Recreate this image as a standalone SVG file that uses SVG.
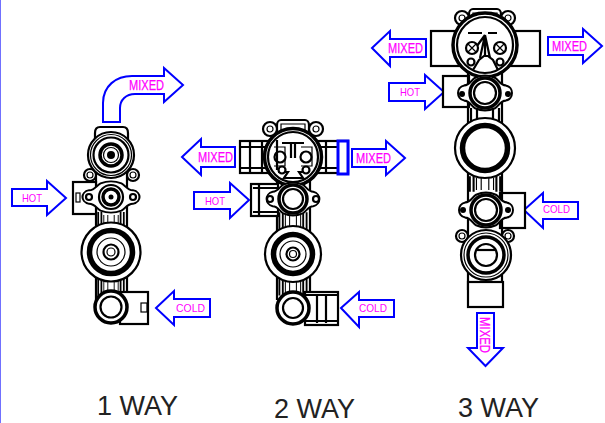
<svg xmlns="http://www.w3.org/2000/svg" width="605" height="423" viewBox="0 0 605 423">
<style>
.a{fill:#fff;stroke:#00f;stroke-width:2}
.l{font-family:"Liberation Sans",Arial,sans-serif;fill:#f0f}
.m{font-size:14px;stroke:#f0f;stroke-width:.25}
.s{font-size:10.500px}
.w{font-family:"Liberation Sans",Arial,sans-serif;font-size:27px;fill:#222}
.t{fill:#fff;stroke:#000;stroke-width:2.200}
.h{fill:#fff;stroke:#000;stroke-width:3.500}
.r{fill:#fff;stroke:#000;stroke-width:5.500}
.n{fill:none;stroke:#000;stroke-width:1.200}
.b{fill:none;stroke:#000;stroke-width:2.200}
.k{fill:#000}
</style>
<defs>
<g id="ribs">
<path class="b" d="M-16 -13V13M16 -13V13M-12 -13V13M12 -13V13"/>
<path class="n" d="M-9 -10V10M-4 -10V10M9 -10V10M4 -10V10"/>
</g>
<path id="flange" class="t" d="M-23 -8C-17 -8-15 -14-11 -16C-4 -19 4 -19 11 -16C15 -14 17 -8 23 -8C28 -7 30 -3 30 0C30 3 28 7 23 8C17 8 15 14 11 16C4 19-4 19-11 16C-15 14-17 8-23 8C-28 7-30 3-30 0C-30-3-28-7-23-8Z"/>
<g id="top">
<path class="t" d="M-16 22V-8C-16 -11-14 -13-12 -13H12C14 -13 16 -11 16 -8V22"/>
<path class="n" d="M-12 -9H12V6H-12Z"/>
<circle class="t" cx="-23" cy="-4" r="7"/><circle class="n" cx="-23" cy="-4" r="3"/>
<circle class="t" cx="23" cy="-4" r="7"/><circle class="n" cx="23" cy="-4" r="3"/>
</g>
</defs>
<rect x="0" y="0" width="1" height="423" fill="#7070ff"/>

<g id="connectors">
<path class="a" d="M103 122V103C103 86 116 76 132 76H164V68L183 85L164 102V94H135C126 94 120 100 120 108V122Z"/>
<path class="a" d="M12 189H47V181L66 198L47 215V206H12Z"/>
<path class="a" d="M156 308L174 291V299H210V317H174V325Z"/>
<path class="a" d="M182 157L201 139V147H235V167H201V175Z"/>
<path class="a" d="M352 149H386V141L405 158L386 175V167H352Z"/>
<path class="a" d="M194 192H230V183L249 200L230 218V209H194Z"/>
<path class="a" d="M341 308L359 292V300H394V317H359V327Z"/>
<path class="a" d="M372 48L390 31V39H426V57H390V66Z"/>
<path class="a" d="M548 37H583V29L602 46L583 63V55H548Z"/>
<path class="a" d="M389 83H425V75L444 92L425 109V101H389Z"/>
<path class="a" d="M524 210L543 193V202H578V219H543V228Z"/>
<path class="a" d="M477 313H494V348H503L485.500 366L468 348H477Z"/>
</g>

<g id="valve-1">
<path class="t" d="M95 142V133Q95 127 100 127H123Q128 127 128 133V142"/>
<path class="b" d="M96 140V300M127 140V300"/>
<rect class="t" x="73" y="182" width="23" height="32"/><rect class="n" x="76" y="193" width="4" height="9"/>
<circle class="t" cx="90" cy="175" r="6"/><circle class="n" cx="90" cy="175" r="3"/>
<circle class="t" cx="133" cy="175" r="6"/><circle class="n" cx="133" cy="175" r="3"/>
<circle class="t" cx="111" cy="155" r="23"/><circle class="n" cx="111" cy="155" r="20.500"/><circle class="t" cx="111" cy="155" r="17.500"/>
<circle class="h" cx="111" cy="155" r="11"/><circle class="n" cx="111" cy="155" r="7.500"/><circle class="k" cx="111" cy="155" r="4"/>
<use href="#ribs" transform="translate(111 225) scale(.8 1)"/>
<use href="#flange" transform="translate(111 197) scale(.95 .85)"/>
<circle class="t" cx="111" cy="197" r="12"/><circle class="h" cx="111" cy="197" r="8"/><circle class="k" cx="111" cy="197" r="2.500"/>
<circle class="t" cx="89" cy="197" r="3"/><circle class="t" cx="133" cy="197" r="3"/>
<use href="#ribs" transform="translate(111 288) scale(.8 .7)"/>
<circle class="t" cx="111" cy="252" r="29.500"/><circle class="r" cx="111" cy="252" r="21.500"/>
<circle class="n" cx="111" cy="252" r="14"/><circle class="t" cx="111" cy="252" r="7.500"/><circle class="n" cx="111" cy="252" r="4"/>
<rect class="t" x="120" y="292" width="28" height="32"/><rect class="n" x="141" y="303" width="6" height="9"/>
<circle class="h" cx="111" cy="307" r="16"/><circle class="t" cx="111" cy="307" r="10.500"/>
</g>

<g id="valve-2">
<path class="b" d="M277 180V300M310 180V292"/>
<rect class="t" x="240" y="141" width="40" height="32"/>
<path class="b" d="M250 142V172M262 142V172M240 147H272M240 168H272"/>
<rect class="t" x="306" y="141" width="42" height="32"/>
<path class="b" d="M326 142V172M306 147H340M306 168H340"/>
<rect x="338" y="141" width="10" height="33" fill="#fff" stroke="#00f" stroke-width="3"/>
<rect class="t" x="251" y="184" width="27" height="32"/><path class="b" d="M259 185V215M253 188H277M253 212H277"/>
<use href="#top" x="293" y="133"/>
<circle class="h" cx="293" cy="157" r="28.500"/><circle class="t" cx="293" cy="157" r="25"/>
<path class="b" d="M282 143H304M291 143V158M295 143V158"/>
<path class="n" d="M274 147H285V166H274M301 147H312V166H301"/>
<path class="b" d="M278 172L288 172L284 178H303L299 172H309"/>
<circle class="t" cx="280" cy="157" r="5.500"/><path class="b" d="M277 140L277 170"/><circle class="t" cx="306" cy="157" r="5.500"/>
<circle class="t" cx="282" cy="170" r="3.500"/><circle class="t" cx="306" cy="170" r="3.500"/>
<use href="#ribs" transform="translate(293 224) scale(.85 .9)"/>
<use href="#flange" transform="translate(293 199) scale(.88 .9)"/>
<circle class="h" cx="293" cy="199" r="14"/><circle class="t" cx="293" cy="199" r="10"/>
<circle class="t" cx="270" cy="199" r="3"/><circle class="t" cx="316" cy="199" r="3"/>
<use href="#ribs" transform="translate(293 285) scale(.85 .8)"/>
<circle class="t" cx="293" cy="254" r="28"/><circle class="r" cx="293" cy="254" r="19.500"/>
<circle class="n" cx="293" cy="254" r="13"/><circle class="t" cx="293" cy="254" r="6.500"/><circle class="n" cx="293" cy="254" r="3.500"/>
<rect class="t" x="305" y="292" width="33" height="33"/><path class="b" d="M317 294V323M326 294V323M306 295H337M306 321H337"/>
<circle class="h" cx="293" cy="308" r="16"/><circle class="t" cx="293" cy="308" r="10"/>
</g>

<g id="valve-3">
<rect class="t" x="431" y="31" width="109" height="35"/>
<rect class="t" x="443" y="76" width="26" height="31"/>
<rect class="t" x="500" y="193" width="25" height="35"/>
<path class="b" d="M468 60V290M502 60V290"/>
<use href="#top" x="485" y="22"/>
<circle class="h" cx="485" cy="45" r="32"/><circle class="t" cx="485" cy="45" r="28"/>
<path class="b" d="M468 33H482M488 33H497M485 35L474 50M485 35L480 58M485 35L490 58M485 35V55"/>
<path class="b" d="M473 70L479 60L484 56H488L493 60L498 70"/>
<circle class="t" cx="472" cy="48" r="6"/><path class="n" d="M468 44L476 52M476 44L468 52"/>
<circle class="t" cx="500" cy="48" r="6"/><path class="n" d="M496 44L504 52M504 44L496 52"/>
<circle class="t" cx="471" cy="62" r="3.500"/><circle class="t" cx="500" cy="62" r="3.500"/>
<use href="#flange" transform="translate(485 93) scale(.9 .95)"/>
<circle class="h" cx="485" cy="93" r="15"/><circle class="t" cx="485" cy="93" r="11"/>
<circle class="k" cx="462" cy="94" r="3"/><circle class="k" cx="508" cy="94" r="3"/>
<path class="b" d="M471 108V122M477 108V122M493 108V122M499 108V122"/>
<circle class="t" cx="485" cy="148" r="30"/><circle class="r" cx="485" cy="148" r="22.500"/>
<use href="#ribs" transform="translate(485 184) scale(.95 .6)"/>
<circle class="t" cx="462" cy="236" r="6"/><circle class="n" cx="462" cy="236" r="3"/>
<circle class="t" cx="508" cy="236" r="6"/><circle class="n" cx="508" cy="236" r="3"/>
<use href="#flange" transform="translate(486 210) scale(.9 .95)"/>
<circle class="h" cx="486" cy="210" r="15"/><circle class="t" cx="486" cy="210" r="11"/>
<circle class="k" cx="463" cy="210" r="3"/><circle class="k" cx="508" cy="210" r="3"/>
<rect class="t" x="468" y="282" width="35" height="25"/>
<circle class="t" cx="486" cy="255" r="25"/><circle class="n" cx="486" cy="255" r="22"/><circle class="h" cx="486" cy="255" r="18"/>
<circle class="t" cx="486" cy="255" r="11"/><path class="b" d="M476 250H496"/>
</g>

<g id="labels">
<text class="l m" x="129" y="90" textLength="35" lengthAdjust="spacingAndGlyphs">MIXED</text>
<text class="l s" x="22" y="202" textLength="20" lengthAdjust="spacingAndGlyphs">HOT</text>
<text class="l s" x="176" y="312" textLength="29" lengthAdjust="spacingAndGlyphs">COLD</text>
<text class="l m" x="198" y="162" textLength="35" lengthAdjust="spacingAndGlyphs">MIXED</text>
<text class="l m" x="356" y="163" textLength="35" lengthAdjust="spacingAndGlyphs">MIXED</text>
<text class="l s" x="205" y="205" textLength="20" lengthAdjust="spacingAndGlyphs">HOT</text>
<text class="l s" x="359" y="312" textLength="28" lengthAdjust="spacingAndGlyphs">COLD</text>
<text class="l m" x="388" y="53" textLength="35" lengthAdjust="spacingAndGlyphs">MIXED</text>
<text class="l m" x="552" y="51" textLength="35" lengthAdjust="spacingAndGlyphs">MIXED</text>
<text class="l s" x="400" y="96" textLength="20" lengthAdjust="spacingAndGlyphs">HOT</text>
<text class="l s" x="543" y="213" textLength="27" lengthAdjust="spacingAndGlyphs">COLD</text>
<text class="l m" transform="translate(480 317) rotate(90)" textLength="36" lengthAdjust="spacingAndGlyphs">MIXED</text>
<text class="w" x="97" y="415">1 WAY</text>
<text class="w" x="274" y="418">2 WAY</text>
<text class="w" x="458" y="417">3 WAY</text>
</g>
</svg>
